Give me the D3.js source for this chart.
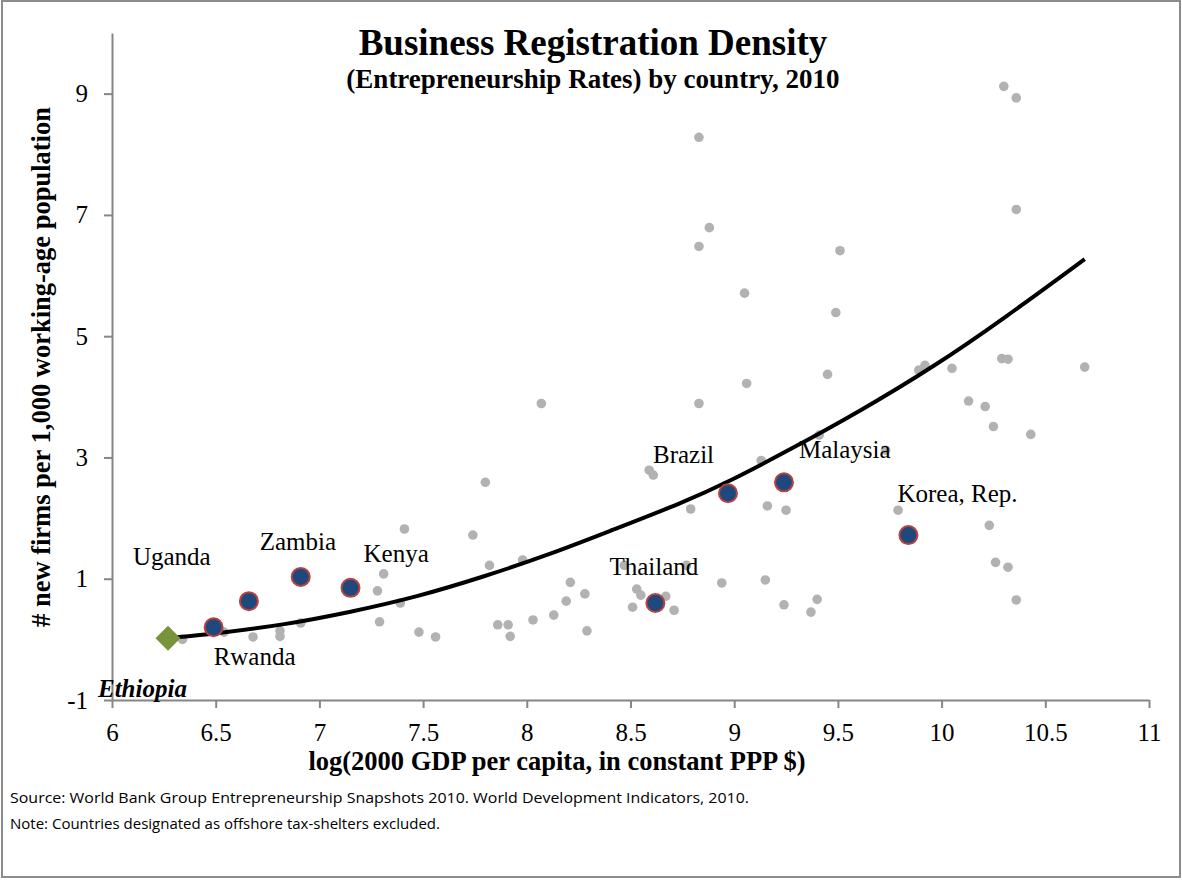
<html>
<head>
    <meta charset="utf-8">
    <script src="https://d3js.org/d3.v7.min.js"></script>
    <style>
        body { margin: 0; background: #fff; }
        text { font-family: "Liberation Serif", "Times New Roman", serif; }
    </style>
</head>
<body>

    <svg id="chart" width="1182" height="882"></svg>

    <script>

        // all countries (grey dots)
        let grayX = [8.83, 8.88, 8.83, 9.05, 10.30, 10.36, 10.36, 9.51, 9.06, 8.83, 8.07, 9.13, 8.59, 8.61,
                     7.80, 8.79, 9.16, 9.25, 7.41, 7.74, 7.82, 7.98, 8.21, 8.28, 8.19, 8.13, 8.03, 7.86,
                     7.91, 7.92, 7.48, 7.56, 8.29, 8.53, 8.55, 8.51, 8.67, 8.71, 8.94, 9.15, 9.24, 8.47,
                     8.77, 7.31, 7.28, 7.29, 7.39, 6.91, 6.81, 6.81, 6.68, 6.54, 6.34, 9.49, 9.45, 9.89,
                     9.92, 10.05, 10.29, 10.32, 10.69, 10.13, 10.21, 10.25, 10.43, 9.41, 9.73, 9.79,
                     10.23, 10.26, 10.32, 9.40, 9.37, 10.36]
        let grayY = [8.28, 6.79, 6.48, 5.71, 9.12, 8.93, 7.09, 6.41, 4.22, 3.89, 3.89, 2.95, 2.79, 2.71,
                     2.59, 2.15, 2.20, 2.13, 1.82, 1.72, 1.22, 1.31, 0.94, 0.75, 0.63, 0.40, 0.32, 0.24,
                     0.24, 0.05, 0.12, 0.04, 0.14, 0.83, 0.73, 0.53, 0.71, 0.48, 0.93, 0.98, 0.57, 1.22,
                     1.22, 1.08, 0.80, 0.29, 0.60, 0.27, 0.14, 0.05, 0.04, 0.12, 0.00, 5.39, 4.37, 4.44,
                     4.52, 4.47, 4.63, 4.62, 4.49, 3.93, 3.84, 3.51, 3.38, 3.37, 3.12, 2.13,
                     1.88, 1.27, 1.19, 0.66, 0.45, 0.65]

        // highlighted countries
        let hiNames = ["Rwanda", "Uganda", "Zambia", "Kenya", "Thailand", "Brazil", "Malaysia", "Korea, Rep."]
        let hiX = [6.49, 6.66, 6.91, 7.15, 8.62, 8.97, 9.24, 9.84]
        let hiY = [0.20, 0.63, 1.03, 0.85, 0.60, 2.41, 2.59, 1.72]

        let baseName = ["Ethiopia"]
        let baseX = [6.27]
        let baseY = [0.02]

        // fitted trend line
        let trendX = [6.27, 6.51, 6.83, 7.15, 7.47, 7.79, 8.11, 8.41, 8.75, 8.98, 9.27, 9.61, 9.96, 10.30, 10.69]
        let trendY = [0.02, 0.10, 0.24, 0.45, 0.70, 1.03, 1.40, 1.80, 2.25, 2.61, 3.13, 3.77, 4.49, 5.29, 6.27]

        let xTicks = [6, 6.5, 7, 7.5, 8, 8.5, 9, 9.5, 10, 10.5, 11]
        let yTicks = [-1, 1, 3, 5, 7, 9]

        let svg = d3.select("#chart")
        let axisColor = "#868686"

        // frame
        svg.append("rect")
            .attr("x", 2).attr("y", 1).attr("width", 1178).attr("height", 876)
            .attr("fill", "none").attr("stroke", "#8c8c8c").attr("stroke-width", 2)

        let x = d3.scaleLinear().domain([6, 11]).range([112, 1149])
        let y = d3.scaleLinear().domain([-1, 10]).range([700, 33])

        let xAxis = svg.append("g")
            .attr("transform", `translate(0,${y(-1)})`)
            .call(d3.axisBottom(x).tickValues(xTicks).tickSize(8).tickSizeOuter(0).tickPadding(15).tickFormat(d => d))

        let yAxis = svg.append("g")
            .attr("transform", `translate(${x(6)},0)`)
            .call(d3.axisLeft(y).tickValues(yTicks).tickSize(8).tickSizeOuter(0).tickPadding(16).tickFormat(d => d))

        svg.selectAll(".domain, .tick line").attr("stroke", axisColor).attr("stroke-width", 2)
        svg.selectAll(".tick text")
            .attr("font-family", "Liberation Serif, Times New Roman, serif")
            .attr("font-size", 25).attr("fill", "#000")

        // grey dots
        svg.append("g").selectAll("circle")
            .data(grayX)
            .enter().append("circle")
            .attr("cx", d => x(d))
            .attr("cy", (d, i) => y(grayY[i]))
            .attr("r", 4.8)
            .attr("fill", "#b2b2b2")

        // trend line
        let line = d3.line()
            .x(d => x(d[0]))
            .y(d => y(d[1]))
            .curve(d3.curveBasis)

        svg.append("path")
            .datum(trendX.map((d, i) => [d, trendY[i]]))
            .attr("d", line)
            .attr("fill", "none")
            .attr("stroke", "#000")
            .attr("stroke-width", 4)

        // highlighted countries
        svg.append("g").selectAll("circle")
            .data(hiX)
            .enter().append("circle")
            .attr("cx", d => x(d))
            .attr("cy", (d, i) => y(hiY[i]))
            .attr("r", 9)
            .attr("fill", "#1f497d")
            .attr("stroke", "#b8423f")
            .attr("stroke-width", 2)

        svg.append("g").selectAll("path")
            .data(baseX)
            .enter().append("path")
            .attr("d", d3.symbol(d3.symbolSquare, 312))
            .attr("transform", (d, i) => `translate(${x(d)},${y(baseY[i])}) rotate(45)`)
            .attr("fill", "#77933c")

        // country labels, offsets in pixels from the dot
        let offs = {
            "Rwanda": [0, 38], "Uganda": [-116, -36], "Zambia": [-41, -27], "Kenya": [13, -26],
            "Thailand": [-46, -28], "Brazil": [-75, -30], "Malaysia": [15, -24], "Korea, Rep.": [-11, -33]
        }
        svg.append("g").selectAll("text")
            .data(hiNames)
            .enter().append("text")
            .attr("x", (d, i) => x(hiX[i]) + offs[d][0])
            .attr("y", (d, i) => y(hiY[i]) + offs[d][1])
            .attr("font-size", 25)
            .text(d => d)

        svg.append("text")
            .attr("x", x(baseX[0]) - 70)
            .attr("y", y(baseY[0]) + 59)
            .attr("font-size", 25)
            .attr("font-weight", "bold")
            .attr("font-style", "italic")
            .text(baseName[0])

        // titles
        svg.append("text")
            .attr("x", 593).attr("y", 55)
            .attr("text-anchor", "middle")
            .attr("font-size", 37).attr("font-weight", "bold")
            .text("Business Registration Density")

        svg.append("text")
            .attr("x", 593).attr("y", 88)
            .attr("text-anchor", "middle")
            .attr("font-size", 27).attr("font-weight", "bold")
            .text("(Entrepreneurship Rates) by country, 2010")

        svg.append("text")
            .attr("x", 557).attr("y", 770)
            .attr("text-anchor", "middle")
            .attr("font-size", 26.5).attr("font-weight", "bold")
            .text("log(2000 GDP per capita, in constant PPP $)")

        svg.append("text")
            .attr("transform", "translate(50,367) rotate(-90)")
            .attr("text-anchor", "middle")
            .attr("font-size", 26.5).attr("font-weight", "bold")
            .text("# new firms per 1,000 working-age population")

        // footnotes
        svg.append("text")
            .attr("x", 10).attr("y", 803)
            .style("font-family", "'Open Sans', sans-serif").attr("font-size", 15)
            .attr("textLength", 739).attr("lengthAdjust", "spacingAndGlyphs")
            .text("Source: World Bank Group Entrepreneurship Snapshots 2010. World Development Indicators, 2010.")

        svg.append("text")
            .attr("x", 10).attr("y", 829)
            .style("font-family", "'Open Sans', sans-serif").attr("font-size", 15)
            .attr("textLength", 430).attr("lengthAdjust", "spacingAndGlyphs")
            .text("Note: Countries designated as offshore tax-shelters excluded.")

    </script>

</body>
</html>
